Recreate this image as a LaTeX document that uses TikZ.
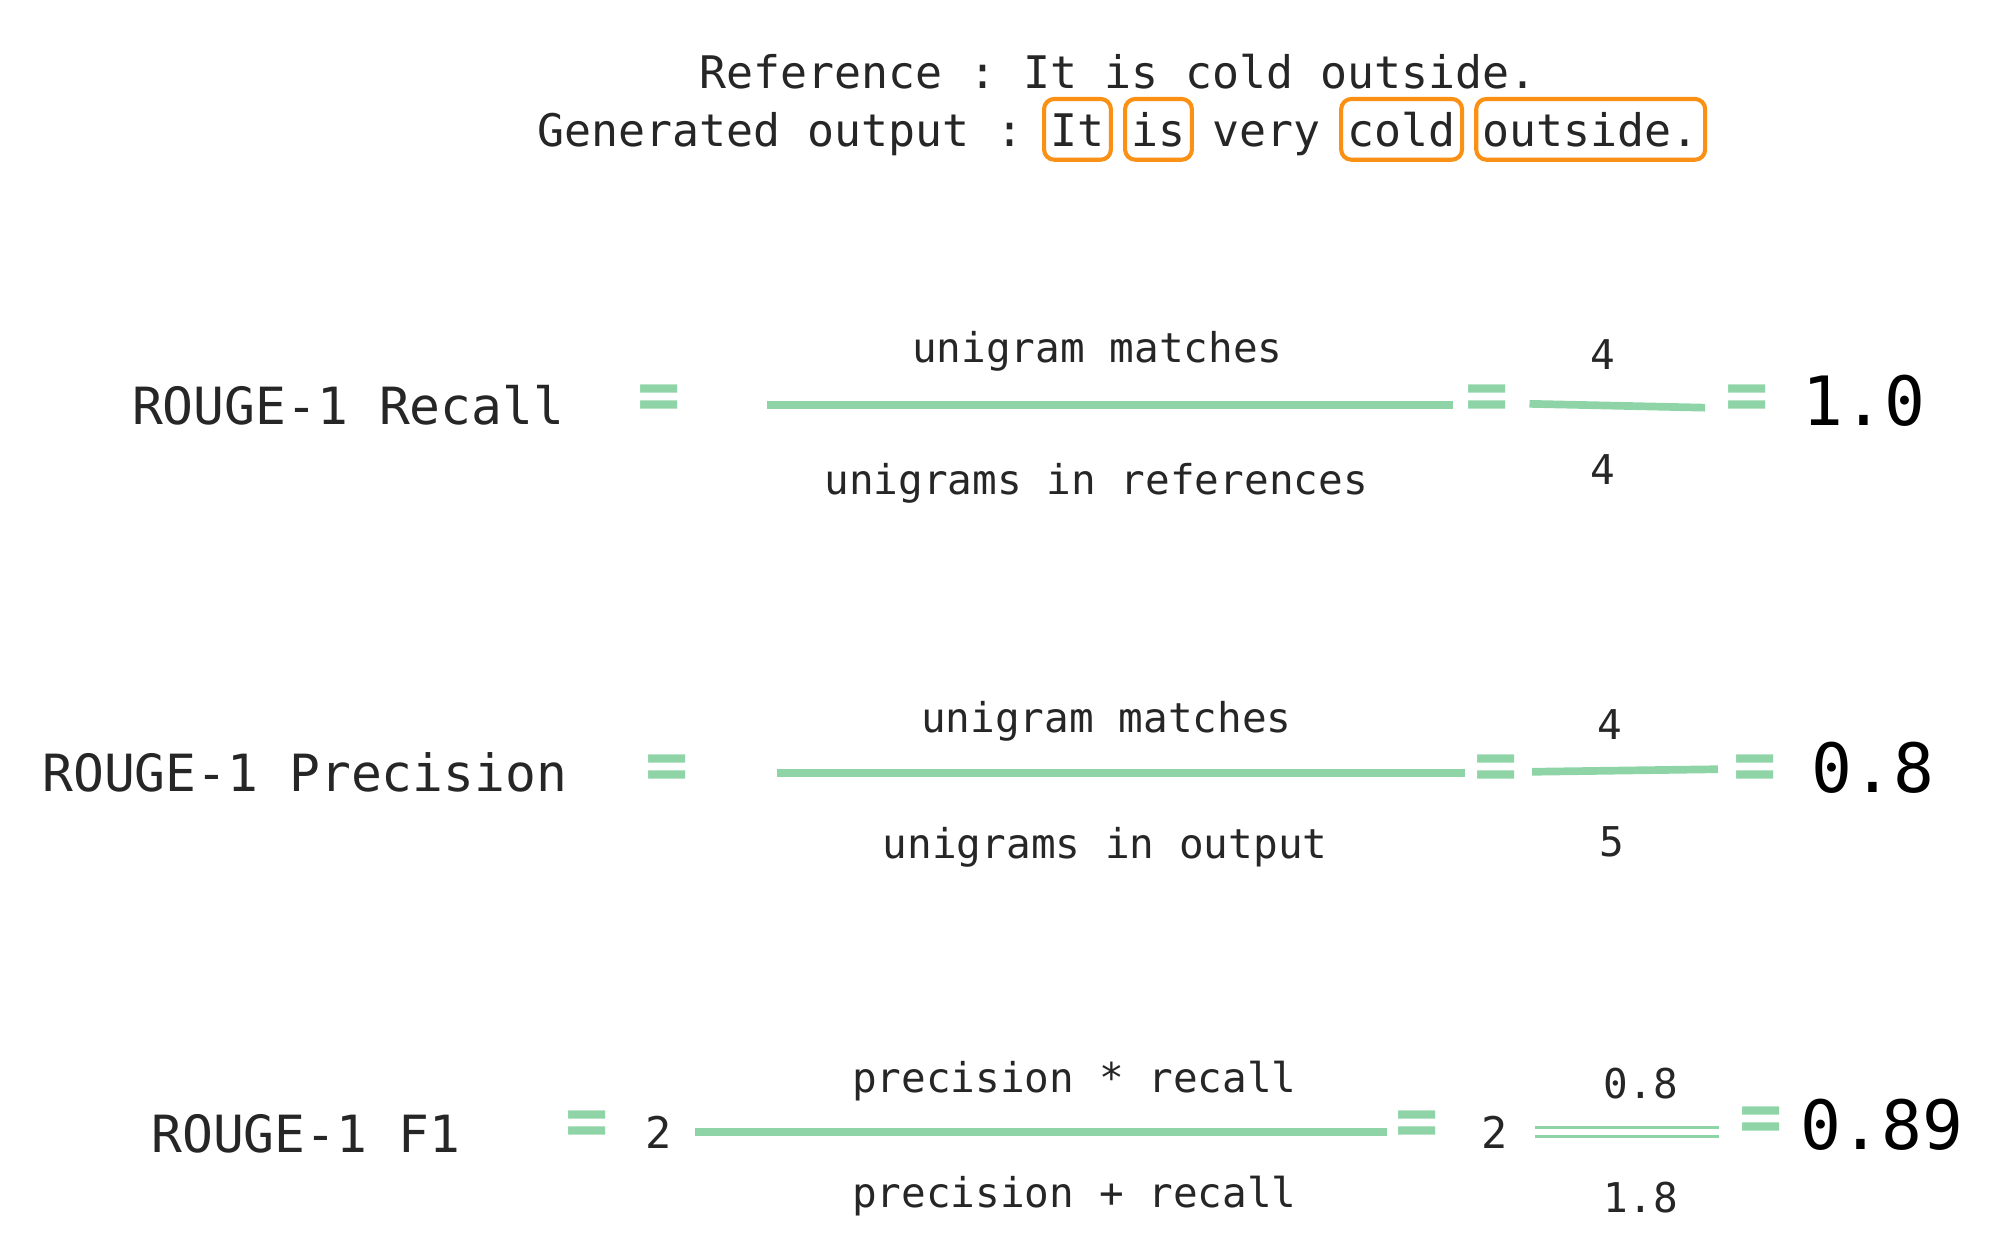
\documentclass[tikz,border=0pt]{standalone}
\usepackage{fontspec}
\setmonofont{DejaVu Sans Mono}
\usetikzlibrary{positioning,fit}
\definecolor{rougegreen}{RGB}{142,212,166}
\definecolor{matchorange}{RGB}{250,145,20}
\begin{document}
\begin{tikzpicture}[>=latex,line join=bevel,
  every node/.style={inner sep=0pt,outer sep=0pt},
  sent/.style={font=\ttfamily\fontsize{17.5bp}{21bp}\selectfont,text=black!85},
  word/.style={sent,text height=16.6bp,text depth=3.5bp},
  markbox/.style={draw=matchorange,line width=1.6bp,rounded corners=4bp,inner xsep=2.5bp,inner ysep=1.8bp},
  rowlabel/.style={font=\ttfamily\fontsize{20bp}{24bp}\selectfont,text=black!85,anchor=base west},
  fractext/.style={font=\ttfamily\fontsize{16bp}{19bp}\selectfont,text=black!85,anchor=base},
  result/.style={font=\ttfamily\fontsize{26.5bp}{30bp}\selectfont,anchor=base west},
  eqsign/.style={font=\ttfamily\bfseries\fontsize{28bp}{32bp}\selectfont,text=rougegreen},
  fracline/.style={draw=rougegreen,line width=3bp},
  twoline/.style={draw=rougegreen,line width=1.2bp,double=white,double distance=2.2bp},
]
\useasboundingbox (0bp,0bp) rectangle (780bp,489bp);
%% sentences
\node (node_ref) at (436bp,454.5bp) [sent,anchor=base] {Reference : It is cold outside.};
\node (node_gen) at (209.5bp,432bp) [sent,anchor=base west] {Generated output :};
  \node (node_w0) [word,base right=10.53bp of node_gen] {It};
  \node (node_w1) [word,base right=10.53bp of node_w0] {is};
  \node (node_w2) [word,base right=10.53bp of node_w1] {very};
  \node (node_w3) [word,base right=10.53bp of node_w2] {cold};
  \node (node_w4) [word,base right=10.53bp of node_w3] {outside.};
  \node [markbox,fit=(node_w0)] {};
  \node [markbox,fit=(node_w1)] {};
  \node [markbox,fit=(node_w3)] {};
  \node [markbox,fit=(node_w4)] {};
%% recall
\node (node_r0) at (51.5bp,323.5bp) [rowlabel] {ROUGE-1 Recall};
  \node (node_r1) at (257bp,332bp) [eqsign] {=};
  \coordinate (node_r2a) at (299bp,331bp);
  \coordinate (node_r2b) at (566.5bp,331bp);
  \node (node_r3) at (428bp,347.5bp) [fractext] {unigram matches};
  \node (node_r4) at (427.5bp,296bp) [fractext] {unigrams in references};
  \node (node_r5) at (580bp,332bp) [eqsign] {=};
  \coordinate (node_r6a) at (596.5bp,331.5bp);
  \coordinate (node_r6b) at (665bp,330bp);
  \node (node_r7) at (625bp,345bp) [fractext] {4};
  \node (node_r8) at (625bp,300bp) [fractext] {4};
  \node (node_r9) at (681.5bp,332bp) [eqsign] {=};
  \node (node_r10) at (703bp,323bp) [result] {1.0};
  \draw [fracline] (node_r2a) -- (node_r2b);
  \draw [fracline] (node_r6a) -- (node_r6b);
%% precision
\node (node_p0) at (16.5bp,180.5bp) [rowlabel] {ROUGE-1 Precision};
  \node (node_p1) at (260bp,188bp) [eqsign] {=};
  \coordinate (node_p2a) at (303bp,187.5bp);
  \coordinate (node_p2b) at (571.5bp,187.5bp);
  \node (node_p3) at (431.5bp,203.5bp) [fractext] {unigram matches};
  \node (node_p4) at (431bp,154bp) [fractext] {unigrams in output};
  \node (node_p5) at (583.5bp,188bp) [eqsign] {=};
  \coordinate (node_p6a) at (597.5bp,188bp);
  \coordinate (node_p6b) at (670bp,189bp);
  \node (node_p7) at (628bp,200.5bp) [fractext] {4};
  \node (node_p8) at (628.5bp,155bp) [fractext] {5};
  \node (node_p9) at (684.5bp,188bp) [eqsign] {=};
  \node (node_p10) at (706.5bp,180bp) [result] {0.8};
  \draw [fracline] (node_p2a) -- (node_p2b);
  \draw [fracline] (node_p6a) -- (node_p6b);
%% f1
\node (node_f0) at (59bp,39.5bp) [rowlabel] {ROUGE-1 F1};
  \node (node_f1) at (229bp,49bp) [eqsign] {=};
  \node (node_f2) at (257bp,41bp) [fractext,font=\ttfamily\fontsize{17bp}{20bp}\selectfont] {2};
  \coordinate (node_f3a) at (271bp,47.5bp);
  \coordinate (node_f3b) at (541bp,47.5bp);
  \node (node_f4) at (419bp,63bp) [fractext] {precision * recall};
  \node (node_f5) at (419bp,18bp) [fractext] {precision + recall};
  \node (node_f6) at (552.5bp,49bp) [eqsign] {=};
  \node (node_f7) at (583bp,41bp) [fractext,font=\ttfamily\fontsize{17bp}{20bp}\selectfont] {2};
  \coordinate (node_f8a) at (598.5bp,47.5bp);
  \coordinate (node_f8b) at (670.5bp,47.5bp);
  \node (node_f9) at (640bp,60.5bp) [fractext] {0.8};
  \node (node_f10) at (640bp,16bp) [fractext] {1.8};
  \node (node_f11) at (687bp,50.5bp) [eqsign] {=};
  \node (node_f12) at (702bp,40.5bp) [result] {0.89};
  \draw [fracline] (node_f3a) -- (node_f3b);
  \draw [twoline] (node_f8a) -- (node_f8b);
%
\end{tikzpicture}
\end{document}
